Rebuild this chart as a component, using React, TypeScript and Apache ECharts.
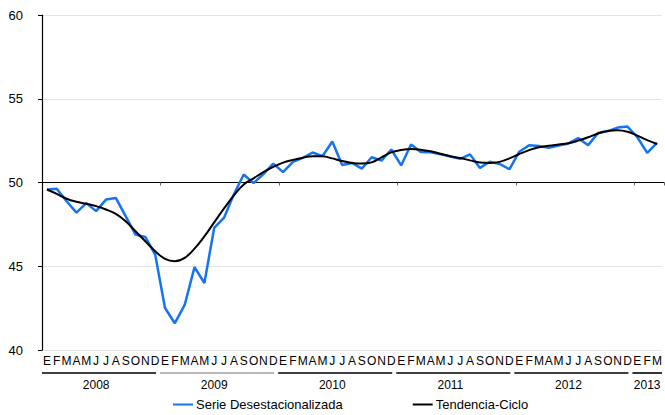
import React, { useEffect, useRef } from 'react';
import * as echarts from 'echarts';

const MONTHS = ['E', 'F', 'M', 'A', 'M', 'J', 'J', 'A', 'S', 'O', 'N', 'D'];
const YEARS = ['2008', '2009', '2010', '2011', '2012', '2013'];
const MONTHS_IN_YEAR = [12, 12, 12, 12, 12, 3];
const HIGHLIGHTED_YEAR = '2009';

const SERIE_DESESTACIONALIZADA = [
  49.58, 49.62, 48.88, 48.2, 48.77, 48.29, 48.98, 49.08, 47.99, 46.89, 46.75, 45.7,
  42.51, 41.6, 42.69, 44.95, 44.0, 47.29, 47.9, 49.3, 50.48, 49.96, 50.5, 51.13,
  50.62, 51.23, 51.47, 51.79, 51.57, 52.45, 51.05, 51.17, 50.83, 51.51, 51.31, 51.97,
  51.02, 52.27, 51.82, 51.81, 51.68, 51.55, 51.41, 51.68, 50.87, 51.24, 51.11, 50.79,
  51.84, 52.22, 52.18, 52.07, 52.2, 52.33, 52.65, 52.23, 52.95, 53.07, 53.28, 53.34,
  52.7, 51.77, 52.37,
];

const TENDENCIA_CICLO = [
  49.58, 49.32, 49.03, 48.85, 48.73, 48.59, 48.39, 48.13, 47.69, 47.09, 46.49, 45.9,
  45.44, 45.3, 45.5, 46.05, 46.78, 47.62, 48.45, 49.23, 49.88, 50.25, 50.62, 50.93,
  51.19, 51.35, 51.48, 51.57, 51.56, 51.44, 51.28, 51.17, 51.13, 51.2, 51.5, 51.8,
  51.94, 52.0, 51.96, 51.86, 51.72, 51.57, 51.46, 51.32, 51.19, 51.17, 51.23, 51.44,
  51.7, 51.93, 52.1, 52.2, 52.27, 52.34, 52.5, 52.7, 52.93, 53.07, 53.12, 53.03,
  52.8, 52.53, 52.3,
];

const Y_MIN = 40;
const Y_MAX = 60;
const Y_STEP = 5;
const REF_LEVEL = 50;

const FONT = '"Liberation Sans", Arial, Helvetica, sans-serif';
const BLUE = '#1474f2';

export default function App() {
  const ref = useRef<HTMLDivElement>(null);

  useEffect(() => {
    if (!ref.current) return;
    const chart = echarts.init(ref.current, undefined, { renderer: 'svg' });

    const monthLabels: string[] = [];
    const yearLabelAt: Record<number, string> = {};
    const yearStarts: number[] = [];
    let idx = 0;
    YEARS.forEach((y, k) => {
      const n = MONTHS_IN_YEAR[k];
      yearStarts.push(idx);
      yearLabelAt[idx + Math.floor((n - 1) / 2)] = y;
      for (let m = 0; m < n; m++) monthLabels.push(MONTHS[m]);
      idx += n;
    });
    const boundaryTicks = new Set(yearStarts.filter((s) => s > 0));

    const gridLeft = 42;
    const gridRight = 1;
    const gridTop = 15;
    const gridBottom = 65;
    const plotH = 415 - gridTop - gridBottom;
    const refH = plotH * (Y_MAX - REF_LEVEL) / (Y_MAX - Y_MIN);

    chart.setOption({
      animation: false,
      textStyle: { fontFamily: FONT },
      grid: [
        { left: gridLeft, right: gridRight, top: gridTop, bottom: gridBottom },
        { left: gridLeft, right: gridRight, top: gridTop, height: refH },
      ],
      xAxis: [
        {
          type: 'category',
          gridIndex: 0,
          data: monthLabels,
          boundaryGap: true,
          axisLine: { show: false },
          axisTick: { show: false },
          axisLabel: { interval: 0, margin: 5, color: '#000', fontSize: 12, fontFamily: FONT },
          splitLine: { show: false },
        },
        {
          type: 'category',
          gridIndex: 0,
          data: monthLabels,
          boundaryGap: true,
          position: 'bottom',
          axisLine: { show: false },
          axisTick: { show: false },
          axisLabel: {
            interval: 0,
            margin: 29,
            color: '#000',
            fontSize: 12,
            fontFamily: FONT,
            formatter: (_v: string, i: number) => yearLabelAt[i] || '',
          },
          splitLine: { show: false },
        },
        {
          type: 'category',
          gridIndex: 1,
          data: monthLabels,
          boundaryGap: true,
          axisLine: { show: true, lineStyle: { color: '#000', width: 1.2 } },
          axisTick: {
            show: true,
            length: 3,
            interval: (i: number) => boundaryTicks.has(i),
            lineStyle: { color: '#666' },
          },
          axisLabel: { show: false },
          splitLine: { show: false },
        },
      ],
      yAxis: [
        {
          type: 'value',
          gridIndex: 0,
          min: Y_MIN,
          max: Y_MAX,
          interval: Y_STEP,
          axisLine: { show: true, lineStyle: { color: '#000', width: 1.2 } },
          axisTick: { show: true, length: 4, lineStyle: { color: '#000' } },
          axisLabel: { margin: 19, color: '#000', fontSize: 13, fontFamily: FONT },
          splitLine: { show: true, lineStyle: { color: '#e4e4e4', width: 1 } },
        },
        {
          type: 'value',
          gridIndex: 1,
          min: 0,
          max: 1,
          show: false,
        },
      ],
      legend: {
        left: 173,
        top: 398,
        padding: 0,
        icon: 'rect',
        itemWidth: 20,
        itemHeight: 2,
        itemGap: 70,
        textStyle: { fontSize: 13, color: '#000', fontFamily: FONT, padding: [0, 0, 0, -2] },
        data: ['Serie Desestacionalizada', 'Tendencia-Ciclo'],
      },
      series: [
        {
          name: 'Serie Desestacionalizada',
          type: 'line',
          xAxisIndex: 0,
          yAxisIndex: 0,
          data: SERIE_DESESTACIONALIZADA,
          symbol: 'none',
          lineStyle: { color: BLUE, width: 2.5 },
          itemStyle: { color: BLUE },
          z: 3,
        },
        {
          name: 'Tendencia-Ciclo',
          type: 'line',
          xAxisIndex: 0,
          yAxisIndex: 0,
          data: TENDENCIA_CICLO,
          symbol: 'none',
          smooth: 0.4,
          lineStyle: { color: '#000', width: 2 },
          itemStyle: { color: '#000' },
          z: 4,
        },
      ],
    });

    // Year separator lines below the month labels, positioned from the category scale
    const px = (i: number) => chart.convertToPixel({ xAxisIndex: 0 }, i) as number;
    const bw = px(1) - px(0);
    const yLine = (chart.convertToPixel({ yAxisIndex: 0 }, Y_MIN) as number) + 23;
    const graphics: any[] = [];
    YEARS.forEach((y, k) => {
      const s = yearStarts[k];
      const e = s + MONTHS_IN_YEAR[k] - 1;
      const x1 = px(s) - bw / 2;
      const last = k === YEARS.length - 1;
      const x2 = px(e) + bw / 2 - (last ? 0 : 4);
      graphics.push({
        type: 'line',
        shape: { x1, y1: yLine, x2, y2: yLine },
        style: { stroke: y === HIGHLIGHTED_YEAR ? '#a0a0a0' : '#000', lineWidth: 1.6 },
        silent: true,
      });
    });
    chart.setOption({ graphic: graphics });

    return () => chart.dispose();
  }, []);

  return (
    <div
      ref={ref}
      style={{ position: 'fixed', left: 0, top: 0, width: 665, height: 415, background: '#fff' }}
    />
  );
}
